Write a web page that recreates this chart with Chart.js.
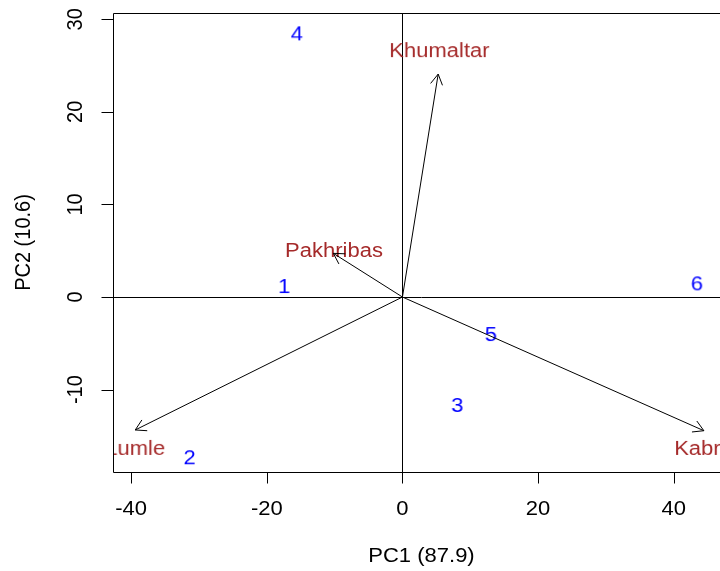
<!DOCTYPE html>
<html>
<head>
<meta charset="utf-8">
<script src="https://cdn.jsdelivr.net/npm/chart.js@4.4.0/dist/chart.umd.min.js"></script>
<style>
  html, body { margin: 0; padding: 0; background: #fff; overflow: hidden; }
  #wrap { position: relative; width: 740px; height: 571px; }
</style>
</head>
<body>
<div id="wrap"><canvas id="biplot"></canvas></div>
<script>
// observation scores (PC1, PC2)
const obsLabels = ['1', '2', '3', '4', '5', '6'];
const obsPC1 = [-17.45, -31.4, 8.07, -15.58, 13.03, 43.4];
const obsPC2 = [1.19, -17.3, -11.66, 28.48, -4.0, 1.48];

// variable loadings: arrow tips and label spots
const varLabels = ['Lumle', 'Khumaltar', 'Pakhribas', 'Kabre'];
const varPC1 = [-39.4, 5.27, -10.19, 44.45];
const varPC2 = [-14.36, 24.08, 4.72, -14.44];
const varLabPC1 = [-39.4, 5.45, -10.1, 44.4];
const varLabPC2 = [-16.3, 26.67, 5.08, -16.3];

const xTicks = [-40, -20, 0, 20, 40];
const yTicks = [-10, 0, 10, 20, 30];
const xTitle = 'PC1 (87.9)';
const yTitle = 'PC2 (10.6)';

const FONT = '20px "Liberation Sans", Arial, sans-serif';
const CAP = 14.3;
const STRETCH = 1.1;

// text as a canvas so the scatter points can use it as pointStyle
function textSprite(txt, color){
    let c = document.createElement('canvas');
    let g = c.getContext('2d');
    g.font = FONT;
    let w = Math.ceil(g.measureText(txt).width * STRETCH) + 4;
    c.width = w;
    c.height = 30;
    g = c.getContext('2d');
    g.scale(STRETCH, 1);
    g.font = FONT;
    g.fillStyle = color;
    g.textAlign = 'center';
    g.textBaseline = 'alphabetic';
    g.fillText(txt, w / 2 / STRETCH, 15 + CAP / 2);
    return c;
}

function putText(ctx, txt, x, y, rot){
    ctx.save();
    ctx.translate(x, y);
    ctx.scale(STRETCH, 1);
    if(rot) ctx.rotate(rot);
    ctx.font = FONT;
    ctx.fillStyle = '#000';
    ctx.textAlign = 'center';
    ctx.textBaseline = 'alphabetic';
    ctx.fillText(txt, 0, CAP / 2);
    ctx.restore();
}

const frame = {
    id: 'biplotFrame',
    beforeDatasetsDraw(chart){
        const ctx = chart.ctx, a = chart.chartArea;
        const x0 = Math.round(chart.scales.x.getPixelForValue(0)) + 0.5;
        const y0 = Math.round(chart.scales.y.getPixelForValue(0)) + 0.5;
        ctx.save();
        ctx.strokeStyle = '#000';
        ctx.lineWidth = 1;
        ctx.beginPath();
        ctx.moveTo(a.left, y0); ctx.lineTo(a.right, y0);
        ctx.moveTo(x0, a.top); ctx.lineTo(x0, a.bottom);
        ctx.stroke();
        ctx.restore();
    },
    afterDatasetsDraw(chart){
        const ctx = chart.ctx, a = chart.chartArea;
        const xs = chart.scales.x, ys = chart.scales.y;
        const ox = xs.getPixelForValue(0), oy = ys.getPixelForValue(0);
        ctx.save();
        ctx.strokeStyle = '#000';
        ctx.lineWidth = 1;

        // arrow heads
        const len = 12, spread = Math.PI / 6;
        varPC1.forEach(function(v, i){
            let tx = xs.getPixelForValue(v), ty = ys.getPixelForValue(varPC2[i]);
            let ang = Math.atan2(ty - oy, tx - ox);
            ctx.beginPath();
            ctx.moveTo(tx - len * Math.cos(ang - spread), ty - len * Math.sin(ang - spread));
            ctx.lineTo(tx, ty);
            ctx.lineTo(tx - len * Math.cos(ang + spread), ty - len * Math.sin(ang + spread));
            ctx.stroke();
        });

        // box
        const L = Math.round(a.left) + 0.5, T = Math.round(a.top) + 0.5;
        const B = Math.round(a.bottom) + 0.5, R = Math.round(a.right) + 0.5;
        ctx.beginPath();
        ctx.rect(L, T, R - L, B - T);
        ctx.stroke();

        // ticks
        ctx.beginPath();
        xTicks.forEach(function(t){
            let px = Math.round(xs.getPixelForValue(t)) + 0.5;
            ctx.moveTo(px, B); ctx.lineTo(px, B + 11);
        });
        yTicks.forEach(function(t){
            let py = Math.round(ys.getPixelForValue(t)) + 0.5;
            ctx.moveTo(L, py); ctx.lineTo(L - 12, py);
        });
        ctx.stroke();

        xTicks.forEach(function(t){
            putText(ctx, String(t), xs.getPixelForValue(t), a.bottom + 36, 0);
        });
        yTicks.forEach(function(t){
            putText(ctx, String(t), a.left - 38.5, ys.getPixelForValue(t), -Math.PI / 2);
        });

        putText(ctx, xTitle, (a.left + a.right) / 2, 555, 0);
        putText(ctx, yTitle, 22, (a.top + a.bottom) / 2, -Math.PI / 2);
        ctx.restore();
    }
};

const arrowSets = varLabels.map(function(name, i){
    return {
        label: name,
        data: [{x: 0, y: 0}, {x: varPC1[i], y: varPC2[i]}],
        showLine: true,
        borderColor: '#000',
        borderWidth: 1,
        pointRadius: 0,
        clip: 0
    };
});

new Chart(document.getElementById('biplot'), {
    type: 'scatter',
    data: {
        datasets: arrowSets.concat([
            {
                label: 'variables',
                data: varLabels.map(function(n, i){ return {x: varLabPC1[i], y: varLabPC2[i]}; }),
                pointStyle: varLabels.map(function(n){ return textSprite(n, '#A52A2A'); }),
                pointRadius: 1,
                clip: 0
            },
            {
                label: 'observations',
                data: obsLabels.map(function(n, i){ return {x: obsPC1[i], y: obsPC2[i]}; }),
                pointStyle: obsLabels.map(function(n){ return textSprite(n, '#0000FF'); }),
                pointRadius: 1,
                clip: 0
            }
        ])
    },
    options: {
        animation: false,
        responsive: true,
        maintainAspectRatio: false,
        events: [],
        layout: { padding: { left: 113, top: 13, right: 10, bottom: 99 } },
        plugins: { legend: { display: false }, tooltip: { enabled: false } },
        scales: {
            x: { type: 'linear', min: -42.68, max: 48.3, display: false },
            y: { type: 'linear', min: -18.9, max: 30.68, display: false }
        }
    },
    plugins: [frame]
});
</script>
</body>
</html>
